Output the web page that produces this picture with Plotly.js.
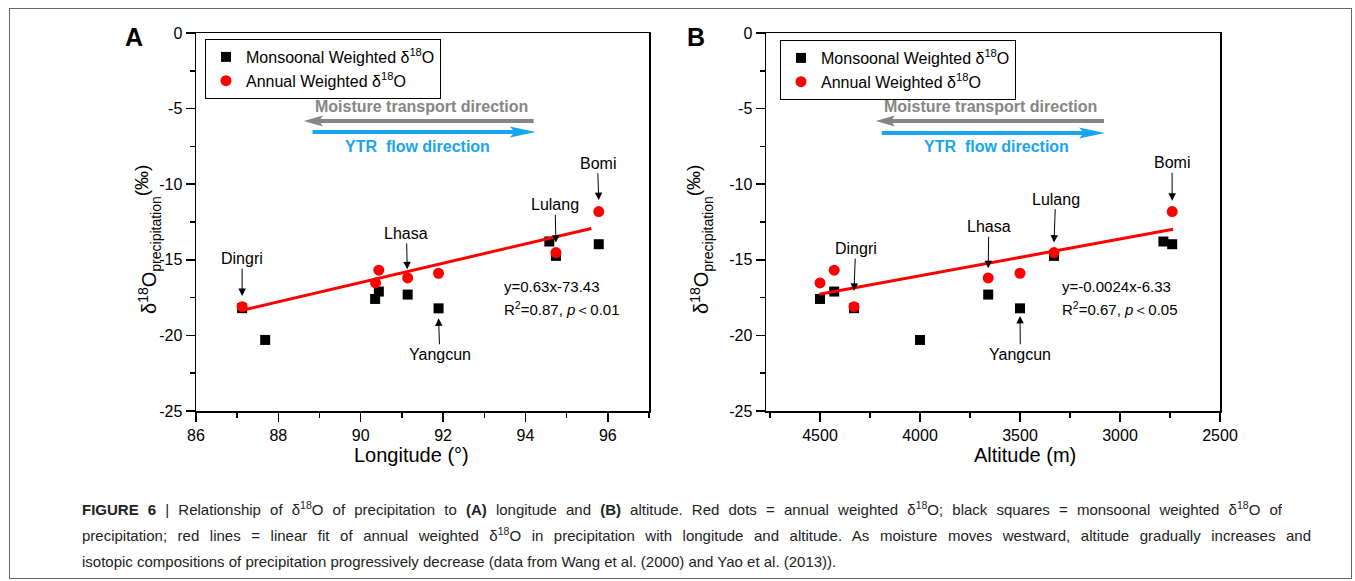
<!DOCTYPE html>
<html>
<head>
<meta charset="utf-8">
<script src="https://cdn.plot.ly/plotly-3.0.1.min.js"></script>
<style>
  html, body { margin:0; padding:0; background:#fff; }
  #wrap { position:relative; width:1355px; height:581px; overflow:hidden; }
  #chart { position:absolute; left:0; top:0; width:1355px; height:581px; }
  #frame { position:absolute; left:9px; top:8px; width:1341px; height:569px; border:1px solid #666; pointer-events:none; }
  #cap { position:absolute; left:82px; top:497px; font-family:Arial, "Liberation Sans", sans-serif; font-size:15px; line-height:26px; color:#222; }
  #cap div { white-space:nowrap; height:26px; }
  #cap .j { text-align:justify; text-align-last:justify; white-space:normal; overflow:hidden; }
  #cap sup { font-size:0.7em; line-height:0; vertical-align:0.55em; }
</style>
</head>
<body>
<div id="wrap">
  <div id="chart"></div>
  <div id="cap">
    <div class="j" style="width:1200px"><b>FIGURE 6</b> | Relationship of δ<sup>18</sup>O of precipitation to <b>(A)</b> longitude and <b>(B)</b> altitude. Red dots = annual weighted δ<sup>18</sup>O; black squares = monsoonal weighted δ<sup>18</sup>O of</div>
    <div class="j" style="width:1229px">precipitation; red lines = linear fit of annual weighted δ<sup>18</sup>O in precipitation with longitude and altitude. As moisture moves westward, altitude gradually increases and</div>
    <div>isotopic compositions of precipitation progressively decrease (data from Wang et al. (2000) and Yao et al. (2013)).</div>
  </div>
  <div id="frame"></div>
</div>
<script>
// ---- data ----
// Monsoonal weighted d18O (black squares), one entry per station
const monsoonLon = [87.12, 87.68, 90.35, 90.44, 91.14, 91.89, 94.58, 94.74, 95.78];
const monsoonAlt = [4330, 4000, 4500, 4429, 3659, 3500, 2783, 3330, 2739];
const monsoonD18O = [-18.20, -20.30, -17.59, -17.10, -17.30, -18.21, -13.79, -14.74, -13.97];
// Annual weighted d18O (red dots)
const annualLon = [87.12, 90.36, 90.44, 91.14, 91.89, 94.74, 95.78];
const annualAlt = [4330, 4500, 4429, 3659, 3500, 3330, 2739];
const annualD18O = [-18.10, -16.53, -15.69, -16.20, -15.89, -14.52, -11.81];
// Linear fit lines (end points)
const fitLonX = [87.1, 95.6];
const fitLonY = [-18.35, -12.93];
const fitAltX = [4504, 2735];
const fitAltY = [-17.28, -12.98];
// Tick labels
const yTickVals = [-25, -20, -15, -10, -5, 0];
const yTickText = ['-25', '-20', '-15', '-10', '-5', '0'];
// Station labels: [name, tip x, tip y, label x, label y]
const stationLabelsA = [
  ['Dingri', 87.12, -17.40, 87.12, -14.92],
  ['Lhasa', 91.13, -15.63, 91.11, -13.26],
  ['Lulang', 94.74, -13.86, 94.72, -11.37],
  ['Bomi', 95.78, -11.05, 95.75, -8.62],
  ['Yangcun', 91.89, -18.87, 91.92, -21.25]
];
const stationLabelsB = [
  ['Dingri', 4330, -17.06, 4322, -14.26],
  ['Lhasa', 3659, -15.56, 3656, -12.82],
  ['Lulang', 3330, -13.86, 3322, -10.99],
  ['Bomi', 2739, -11.10, 2740, -8.58],
  ['Yangcun', 3500, -18.71, 3498, -21.25]
];

const FONT = 'Arial, "Liberation Sans", sans-serif';
const RED = '#ff0000';
const GRAY = '#858585';
const BLUE = '#17a5ef';

const traces = [
  {x: monsoonLon, y: monsoonD18O, xaxis:'x', yaxis:'y', type:'scatter', mode:'markers',
   name:'Monsoonal Weighted δ<sup>18</sup>O', legend:'legend',
   marker:{symbol:'square', size:10, color:'black'}},
  {x: annualLon, y: annualD18O, xaxis:'x', yaxis:'y', type:'scatter', mode:'markers',
   name:'Annual Weighted δ<sup>18</sup>O', legend:'legend',
   marker:{symbol:'circle', size:11, color:RED}},
  {x: fitLonX, y: fitLonY, xaxis:'x', yaxis:'y', type:'scatter', mode:'lines',
   showlegend:false, line:{color:RED, width:3}},
  {x: monsoonAlt, y: monsoonD18O, xaxis:'x2', yaxis:'y2', type:'scatter', mode:'markers',
   name:'Monsoonal Weighted δ<sup>18</sup>O', legend:'legend2',
   marker:{symbol:'square', size:10, color:'black'}},
  {x: annualAlt, y: annualD18O, xaxis:'x2', yaxis:'y2', type:'scatter', mode:'markers',
   name:'Annual Weighted δ<sup>18</sup>O', legend:'legend2',
   marker:{symbol:'circle', size:11, color:RED}},
  {x: fitAltX, y: fitAltY, xaxis:'x2', yaxis:'y2', type:'scatter', mode:'lines',
   showlegend:false, line:{color:RED, width:3}}
];

const W = 1355, H = 581;
const px = v => v / W;
const py = v => 1 - v / H;

function xAxisBase(extra) {
  return Object.assign({
    ticks:'outside', ticklen:9, tickwidth:1.5, tickcolor:'black',
    showline:true, linecolor:'black', linewidth:1.5, mirror:true,
    showgrid:false, zeroline:false, tickfont:{size:16, color:'black'},
    fixedrange:true
  }, extra);
}

const yAxisCommon = {
  range:[-25, 0], tickmode:'array', tickvals:yTickVals, ticktext:yTickText,
  ticks:'outside', ticklen:9, tickwidth:1.5, tickcolor:'black',
  showline:true, linecolor:'black', linewidth:1.5, mirror:true,
  showgrid:false, zeroline:false, tickfont:{size:16, color:'black'},
  minor:{ticks:'outside', ticklen:5, tickwidth:1.5, tickcolor:'black', tickmode:'linear', tick0:0, dtick:2.5, showgrid:false},
  domain:[py(411), py(33)], fixedrange:true
};

const legendCommon = {
  bgcolor:'white', bordercolor:'black', borderwidth:1,
  font:{size:16, color:'black', family:FONT},
  xanchor:'left', yanchor:'top', itemwidth:30, tracegroupgap:0
};

const annotations = [];
function addLabels(list, xr, yr) {
  list.forEach(([name, tx, ty, lx, ly]) => {
    annotations.push({
      xref:xr, yref:yr, axref:xr, ayref:yr, x:tx, y:ty, ax:lx, ay:ly,
      text:name, showarrow:true, arrowhead:2, arrowsize:1.5, arrowwidth:1,
      arrowcolor:'black', font:{size:16, color:'black'}
    });
  });
}
addLabels(stationLabelsA, 'x', 'y');
addLabels(stationLabelsB, 'x2', 'y2');

// equations
annotations.push(
  {xref:'x', yref:'y', x:93.44, y:-16.75, xanchor:'left', yanchor:'middle', text:'y=0.63x-73.43', showarrow:false, font:{size:15}},
  {xref:'x', yref:'y', x:93.44, y:-18.23, xanchor:'left', yanchor:'middle', text:'R<sup>2</sup>=0.87, <i>p</i>＜0.01', showarrow:false, font:{size:15}},
  {xref:'x2', yref:'y2', x:3300, y:-16.75, xanchor:'left', yanchor:'middle', text:'y=-0.0024x-6.33', showarrow:false, font:{size:15}},
  {xref:'x2', yref:'y2', x:3300, y:-18.23, xanchor:'left', yanchor:'middle', text:'R<sup>2</sup>=0.67, <i>p</i>＜0.05', showarrow:false, font:{size:15}}
);
// direction texts
annotations.push(
  {xref:'x', yref:'y', x:91.47, y:-4.83, xanchor:'center', yanchor:'middle', text:'<b>Moisture transport direction</b>', showarrow:false, font:{size:16, color:GRAY}},
  {xref:'x', yref:'y', x:91.39, y:-7.52, xanchor:'center', yanchor:'middle', text:'<b>YTR&nbsp; flow direction</b>', showarrow:false, font:{size:16, color:BLUE}},
  {xref:'x2', yref:'y2', x:3647, y:-4.83, xanchor:'center', yanchor:'middle', text:'<b>Moisture transport direction</b>', showarrow:false, font:{size:16, color:GRAY}},
  {xref:'x2', yref:'y2', x:3620, y:-7.52, xanchor:'center', yanchor:'middle', text:'<b>YTR&nbsp; flow direction</b>', showarrow:false, font:{size:16, color:BLUE}}
);
// axis titles & panel letters
const yTitle = 'δ<sup>18</sup>O<sub>precipitation</sub><sup><span style="font-size:19px">(‰)</span></sup>';
function paperText(x, y, text, size, angle) {
  return {xref:'paper', yref:'paper', x:px(x), y:py(y), xanchor:'center', yanchor:'middle',
          text:text, showarrow:false, textangle:angle || 0, font:{size:size}};
}
annotations.push(
  paperText(411, 455, 'Longitude (°)', 20),
  paperText(1025, 455, 'Altitude (m)', 20),
  paperText(148, 240, yTitle, 20, -90),
  paperText(700, 240, yTitle, 20, -90),
  paperText(133.5, 37, '<b>A</b>', 25),
  paperText(695.5, 37, '<b>B</b>', 25)
);

// big direction arrows (line + head)
function head(xr, yr, tip, back, notch, y, hh, color) {
  return {type:'path', xref:xr, yref:yr,
    path:`M${tip},${y} L${back},${y+hh} L${notch},${y} L${back},${y-hh} Z`,
    fillcolor:color, line:{width:0}};
}
const shapes = [
  {type:'line', xref:'x', yref:'y', x0:94.20, y0:-5.82, x1:88.95, y1:-5.82, line:{color:GRAY, width:4}},
  head('x','y', 88.62, 89.08, 88.99, -5.82, 0.36, GRAY),
  {type:'line', xref:'x', yref:'y', x0:88.83, y0:-6.55, x1:93.85, y1:-6.55, line:{color:BLUE, width:4}},
  head('x','y', 94.25, 93.62, 93.74, -6.55, 0.36, BLUE),
  {type:'line', xref:'x2', yref:'y2', x0:3080, y0:-5.82, x1:4150, y1:-5.82, line:{color:GRAY, width:4}},
  head('x2','y2', 4221, 4126, 4144, -5.82, 0.36, GRAY),
  {type:'line', xref:'x2', yref:'y2', x0:4191, y0:-6.61, x1:3140, y1:-6.61, line:{color:BLUE, width:4}},
  head('x2','y2', 3075, 3205, 3180, -6.61, 0.36, BLUE)
];

const layout = {
  width:W, height:H, margin:{l:0, r:0, t:0, b:0},
  paper_bgcolor:'rgba(0,0,0,0)', plot_bgcolor:'white',
  font:{family:FONT, size:16, color:'black'},
  showlegend:true, hovermode:false,
  xaxis: xAxisBase({domain:[px(196), px(649)], range:[86, 97], tickmode:'linear', tick0:86, dtick:2, anchor:'y',
    minor:{ticks:'outside', ticklen:5, tickwidth:1.5, tickcolor:'black', tickmode:'linear', tick0:86, dtick:1, showgrid:false}}),
  yaxis: Object.assign({}, yAxisCommon, {anchor:'x'}),
  xaxis2: xAxisBase({domain:[px(766), px(1220)], range:[4770, 2500], tickmode:'linear', tick0:2500, dtick:500, anchor:'y2',
    minor:{ticks:'outside', ticklen:5, tickwidth:1.5, tickcolor:'black', tickmode:'linear', tick0:2500, dtick:250, showgrid:false}}),
  yaxis2: Object.assign({}, yAxisCommon, {anchor:'x2'}),
  legend: Object.assign({}, legendCommon, {x:px(205), y:py(39)}),
  legend2: Object.assign({}, legendCommon, {x:px(780), y:py(40)}),
  annotations: annotations,
  shapes: shapes
};

Plotly.newPlot('chart', traces, layout, {staticPlot:true, displayModeBar:false});
</script>
</body>
</html>
